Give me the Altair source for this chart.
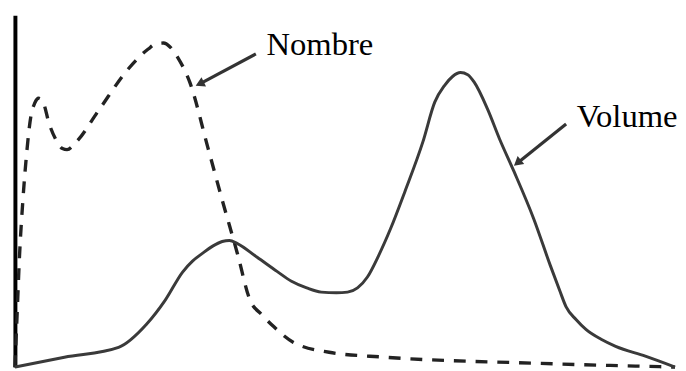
import altair as alt
import pandas as pd

# Nombre (dashed) curve
nombre_x = [0, 0.3, 0.7, 1.2, 1.8, 2.4, 3.0, 3.6, 4.2, 5.2, 6.4, 7.2, 7.9, 9.3, 12.7, 17.2, 20.2, 21.4,
            22.5, 23.5, 24.7, 26.5, 29.2, 31.4, 33.7, 35.6, 37.4, 39.2, 42.2, 47.6, 56.1, 78.6, 100]
nombre_y = [0, 13.5, 31.7, 47.2, 61.2, 71.1, 75.0, 76.4, 75.6, 69.1, 64.0, 62.1, 61.8, 64.0, 73.0, 84.8,
            90.4, 91.9, 92.1, 91.0, 87.9, 80.9, 62.6, 47.5, 32.3, 19.1, 14.9, 11.5, 7.0, 4.2, 2.8, 1.1, 0]

# Volume (solid) curve
volume_x = [0, 7.5, 15.7, 19.9, 22.8, 25.4, 26.9, 28.4, 29.9, 31.4, 32.5, 33.7, 36.7, 39.7, 41.9, 44.2,
            46.4, 48.7, 50.4, 51.9, 53.4, 55.1, 56.9, 59.1, 61.8, 63.6, 65.1, 66.3, 67.5, 68.6, 69.6,
            71.6, 73.4, 75.6, 78.6, 81.1, 82.5, 83.5, 85.0, 86.5, 88.8, 91.0, 95.5, 100]
volume_y = [0, 2.8, 5.6, 12.1, 19.1, 27.0, 30.1, 32.3, 34.3, 35.7, 36.0, 35.1, 31.2, 27.2, 24.4, 22.5,
            21.3, 21.1, 21.3, 22.5, 25.6, 31.7, 39.3, 50.0, 64.0, 75.3, 80.1, 82.6, 83.7, 83.1, 80.9,
            73.3, 64.9, 55.6, 42.1, 28.9, 21.9, 17.1, 13.5, 10.7, 7.9, 5.9, 3.1, 0]

# Annotations
label_text = ["Nombre", "Volume"]
label_x = [38.1, 85.1]
label_y = [88.8, 68.3]
arrow_x_start = [36.5, 83.5]
arrow_y_start = [89.0, 69.1]
arrow_x_end = [28.0, 76.0]
arrow_y_end = [80.5, 57.8]
arrow_head_x = [28.2, 76.3]
arrow_head_y = [80.7, 58.3]
arrow_angle = [244, 231]

nombre_df = pd.DataFrame({"x": nombre_x, "y": nombre_y})
volume_df = pd.DataFrame({"x": volume_x, "y": volume_y})
ann = pd.DataFrame({
    "text": label_text, "lx": label_x, "ly": label_y,
    "ax": arrow_x_start, "ay": arrow_y_start, "ax2": arrow_x_end, "ay2": arrow_y_end,
    "hx": arrow_head_x, "hy": arrow_head_y, "angle": arrow_angle,
})

xs = alt.Scale(domain=[0, 100], nice=False, zero=False)
ys = alt.Scale(domain=[0, 100], nice=False, zero=False)

base_axis_y = alt.Axis(title=None, labels=False, ticks=False, grid=False,
                       domainColor="black", domainWidth=4)

nombre = alt.Chart(nombre_df).mark_line(
    color="#222222", strokeWidth=3.4, strokeDash=[12, 10], interpolate="monotone"
).encode(
    x=alt.X("x:Q", scale=xs, axis=None),
    y=alt.Y("y:Q", scale=ys, axis=base_axis_y),
)

volume = alt.Chart(volume_df).mark_line(
    color="#3a3a3a", strokeWidth=3, interpolate="monotone"
).encode(
    x=alt.X("x:Q", scale=xs, axis=None),
    y=alt.Y("y:Q", scale=ys, axis=base_axis_y),
)

arrows = alt.Chart(ann).mark_rule(color="#333333", strokeWidth=3.2).encode(
    x=alt.X("ax:Q", scale=xs, axis=None), y=alt.Y("ay:Q", scale=ys, axis=base_axis_y),
    x2="ax2:Q", y2="ay2:Q",
)

heads = alt.Chart(ann).mark_point(
    shape="triangle", filled=True, color="#333333", size=110, opacity=1
).encode(
    x=alt.X("hx:Q", scale=xs, axis=None), y=alt.Y("hy:Q", scale=ys, axis=base_axis_y),
    angle=alt.Angle("angle:Q", scale=None),
)

labels = alt.Chart(ann).mark_text(
    font="Liberation Serif", fontSize=33, color="black", align="left", baseline="alphabetic"
).encode(
    x=alt.X("lx:Q", scale=xs, axis=None), y=alt.Y("ly:Q", scale=ys, axis=base_axis_y), text="text:N",
)

chart = alt.layer(nombre, volume, arrows, heads, labels).properties(
    width=668, height=356,
    padding={"left": 7, "top": 4, "right": 3, "bottom": 200},
    autosize="none",
    background="white",
).configure_view(strokeWidth=0).configure_axis(grid=False)

chart.save("out.html", embed_options={"renderer": "svg", "actions": False})
